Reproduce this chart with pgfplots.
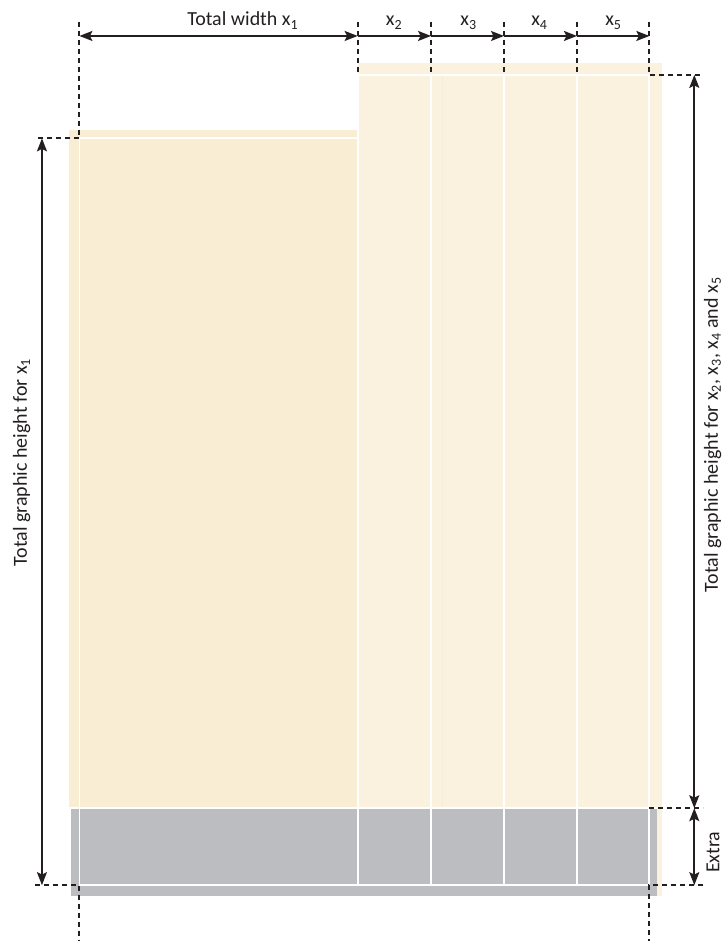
\documentclass[border=0pt]{standalone}
\usepackage{pgfplots}
\pgfplotsset{compat=1.18}
\usepackage{fontspec}
\setmainfont{Carlito}
\usetikzlibrary{arrows.meta}
\definecolor{creamA}{HTML}{F9EDD3}
\definecolor{creamB}{HTML}{FBF1DF}
\definecolor{creamC}{HTML}{F8ECD6}
\definecolor{graybar}{HTML}{BCBDC0}
\definecolor{ink}{HTML}{231F20}
\begin{document}
\begin{tikzpicture}
\begin{axis}[
  width=726bp, height=942bp, scale only axis,
  xmin=0, xmax=726, ymin=0, ymax=942, y dir=reverse,
  hide axis, clip=false,
]
% --- filled blocks
\addplot[fill=creamB, draw=none] coordinates {(358,63)(663,63)(663,897)(358,897)} -- cycle;
\addplot[fill=creamA, draw=none] coordinates {(69,130)(358,130)(358,809)(69,809)} -- cycle;
\addplot[fill=graybar, draw=none] coordinates {(71,809)(658,809)(658,897)(71,897)} -- cycle;
\addplot[creamC, line width=1bp] coordinates {(443,75)(443,809)};
% --- white separators
\addplot[white, line width=1.8bp] coordinates {(79.5,138.5)(358,138.5)};
\addplot[white, line width=1.8bp] coordinates {(358,75)(650,75)};
\addplot[white, line width=1.8bp] coordinates {(69,809)(663,809)};
\addplot[white, line width=1.8bp] coordinates {(79.5,886)(650,886)};
\addplot[white, line width=1.8bp] coordinates {(79.5,138.5)(79.5,886)};
\addplot[white, line width=1.8bp] coordinates {(358,75)(358,886)};
\addplot[white, line width=1.8bp] coordinates {(431.5,75)(431.5,886)};
\addplot[white, line width=1.8bp] coordinates {(504.5,75)(504.5,886)};
\addplot[white, line width=1.8bp] coordinates {(577.5,75)(577.5,886)};
\addplot[white, line width=1.8bp] coordinates {(650,75)(650,886)};
% --- dashed guides
\pgfplotsset{guide/.style={ink, line width=1.9bp, dash pattern=on 5bp off 4bp}}
\addplot[guide] coordinates {(79.5,22)(79.5,138.5)(35,138.5)};
\addplot[guide] coordinates {(35,886)(79.5,886)(79.5,942)};
\addplot[guide] coordinates {(358,22)(358,75)};
\addplot[guide] coordinates {(431.5,22)(431.5,75)};
\addplot[guide] coordinates {(504.5,22)(504.5,75)};
\addplot[guide] coordinates {(577.5,22)(577.5,75)};
\addplot[guide] coordinates {(650,22)(650,75)(704,75)};
\addplot[guide] coordinates {(650,809)(704,809)};
\addplot[guide] coordinates {(704,886)(650,886)(650,942)};
% --- dimension arrows
\tikzset{ah/.tip={Stealth[length=13bp,width=10bp,inset=2.5bp]}}
\pgfplotsset{dim/.style={ink, line width=1.8bp}}
\addplot[dim, ah-ah] coordinates {(79.5,36)(358,36)};
\addplot[dim, -ah] coordinates {(358,36)(431.5,36)};
\addplot[dim, -ah] coordinates {(431.5,36)(504.5,36)};
\addplot[dim, -ah] coordinates {(504.5,36)(577.5,36)};
\addplot[dim, -ah] coordinates {(577.5,36)(650,36)};
\addplot[dim, ah-ah] coordinates {(42,138.5)(42,886)};
\addplot[dim, ah-ah] coordinates {(695,75)(695,809)};
\addplot[dim, ah-ah] coordinates {(695,809)(695,886)};
% --- labels
\tikzset{lbl/.style={font=\fontsize{20bp}{24bp}\selectfont, text=ink, inner sep=0pt}}
\node[lbl, anchor=base] at (axis cs:243,26) {Total width x\textsubscript{1}};
\node[lbl, anchor=base] at (axis cs:394.5,26) {x\textsubscript{2}};
\node[lbl, anchor=base] at (axis cs:469,26) {x\textsubscript{3}};
\node[lbl, anchor=base] at (axis cs:540,26) {x\textsubscript{4}};
\node[lbl, anchor=base] at (axis cs:614,26) {x\textsubscript{5}};
\node[lbl, anchor=base west, rotate=90] at (axis cs:27,567) {Total graphic height for x\textsubscript{1}};
\node[lbl, anchor=base west, rotate=90] at (axis cs:718.5,593) {Total graphic height for x\textsubscript{2}, x\textsubscript{3}, x\textsubscript{4} and x\textsubscript{5}};
\node[lbl, anchor=base, rotate=90] at (axis cs:720,853) {Extra};
\path (axis cs:0,0) rectangle (axis cs:726,942);
\end{axis}
\end{tikzpicture}
\end{document}
